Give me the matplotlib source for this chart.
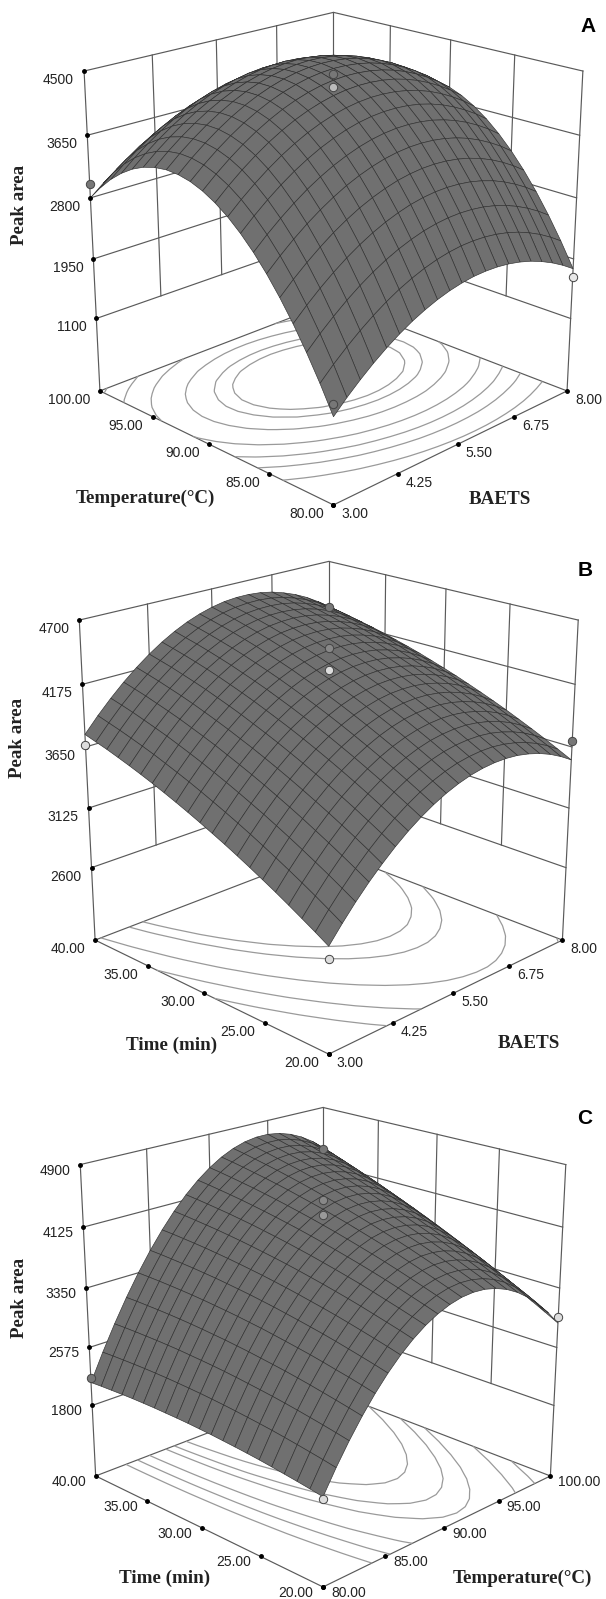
import numpy as np
import matplotlib
matplotlib.use('Agg')
import matplotlib.pyplot as plt
from mpl_toolkits.mplot3d import proj3d

W, H = 606, 1599
SANS = 'Liberation Sans'
SERIF = 'Liberation Serif'

baets_ticks = [3.00, 4.25, 5.50, 6.75, 8.00]
temp_ticks = [80.00, 85.00, 90.00, 95.00, 100.00]
time_ticks = [20.00, 25.00, 30.00, 35.00, 40.00]
a_z_ticks = [1100, 1950, 2800, 3650, 4500]
b_z_ticks = [2600, 3125, 3650, 4175, 4700]
c_z_ticks = [1800, 2575, 3350, 4125, 4900]
a_floor, b_floor, c_floor = 37.5, 1944, 831

# rows run along the left-going axis, columns along the right-going axis
a_surface = [
 [1200,1372,1527,1669,1796,1908,2006,2087,2155,2208,2246,2270,2277,2271,2250,2214,2164,2097,2017,1922,1812],
 [1554,1725,1879,2019,2145,2256,2353,2433,2500,2552,2589,2612,2618,2611,2589,2552,2501,2433,2352,2255,2144],
 [1878,2048,2201,2341,2466,2576,2671,2751,2816,2868,2903,2924,2930,2921,2899,2860,2808,2739,2657,2560,2448],
 [2175,2343,2496,2634,2758,2867,2961,3040,3104,3155,3189,3209,3214,3204,3181,3141,3088,3018,2934,2837,2723],
 [2441,2609,2760,2897,3021,3128,3222,3299,3362,3412,3445,3464,3468,3457,3432,3392,3337,3267,3182,3083,2969],
 [2680,2846,2997,3133,3254,3361,3454,3530,3592,3641,3673,3691,3694,3682,3656,3615,3559,3487,3401,3302,3186],
 [2890,3055,3204,3339,3461,3566,3657,3732,3794,3841,3872,3889,3890,3878,3851,3808,3751,3679,3592,3491,3374],
 [3070,3234,3383,3517,3637,3741,3831,3905,3966,4012,4042,4058,4058,4045,4017,3973,3915,3841,3753,3652,3534],
 [3223,3386,3533,3666,3785,3888,3978,4051,4110,4155,4184,4199,4198,4183,4154,4110,4051,3976,3887,3784,3665],
 [3345,3507,3654,3786,3904,4006,4094,4166,4224,4268,4296,4310,4308,4292,4262,4216,4156,4080,3990,3887,3767],
 [3440,3601,3746,3877,3994,4095,4182,4253,4310,4353,4380,4393,4390,4373,4342,4295,4234,4157,4066,3961,3840],
 [3506,3666,3809,3939,4055,4155,4241,4311,4367,4409,4435,4447,4443,4425,4393,4345,4283,4205,4113,4006,3884],
 [3542,3701,3844,3973,4088,4187,4271,4340,4395,4436,4461,4472,4467,4448,4415,4365,4302,4223,4130,4023,3900],
 [3551,3709,3850,3978,4092,4190,4274,4342,4395,4435,4459,4469,4463,4442,4408,4358,4294,4214,4120,4011,3887],
 [3529,3686,3827,3954,4066,4163,4246,4313,4365,4404,4427,4436,4429,4407,4372,4321,4256,4174,4079,3970,3845],
 [3480,3636,3775,3901,4013,4108,4190,4256,4308,4345,4367,4375,4366,4344,4308,4256,4189,4107,4011,3900,3774],
 [3402,3556,3695,3820,3930,4025,4105,4170,4221,4257,4278,4285,4275,4252,4215,4161,4094,4010,3913,3802,3674],
 [3294,3448,3585,3709,3819,3912,3992,4055,4105,4140,4160,4166,4155,4131,4092,4038,3969,3885,3787,3674,3546],
 [3159,3311,3448,3570,3679,3771,3850,3912,3961,3995,4014,4019,4007,3982,3942,3887,3817,3732,3632,3519,3389],
 [2993,3145,3280,3402,3509,3601,3678,3739,3787,3821,3838,3841,3829,3802,3762,3705,3635,3548,3448,3333,3203],
 [2800,2950,3085,3205,3315,3402,3478,3539,3585,3618,3634,3636,3623,3595,3554,3496,3424,3337,3235,3120,2988]]
b_surface = [
 [2818,2953,3078,3192,3295,3389,3473,3545,3607,3659,3700,3731,3751,3761,3761,3751,3729,3698,3656,3603,3540],
 [2884,3018,3143,3257,3360,3453,3535,3607,3669,3720,3761,3792,3811,3821,3821,3809,3787,3755,3713,3660,3596],
 [2947,3082,3206,3319,3422,3514,3596,3668,3729,3780,3820,3850,3869,3878,3878,3866,3843,3811,3768,3714,3651],
 [3009,3143,3266,3379,3481,3574,3655,3726,3787,3837,3877,3907,3925,3934,3933,3920,3897,3865,3822,3767,3703],
 [3069,3202,3325,3437,3539,3631,3712,3782,3843,3893,3932,3961,3979,3988,3986,3973,3949,3917,3873,3818,3753],
 [3126,3259,3382,3494,3594,3686,3767,3837,3896,3946,3985,4014,4032,4039,4037,4024,4000,3966,3922,3867,3802],
 [3182,3314,3437,3548,3648,3740,3820,3889,3948,3998,4036,4064,4082,4089,4086,4072,4048,4014,3969,3914,3848],
 [3236,3368,3490,3600,3700,3791,3871,3940,3998,4047,4085,4113,4130,4136,4133,4119,4094,4060,4014,3958,3892],
 [3288,3419,3540,3651,3750,3840,3920,3988,4046,4095,4132,4159,4176,4182,4178,4164,4138,4103,4058,4001,3934],
 [3337,3468,3589,3699,3798,3888,3967,4034,4092,4140,4177,4204,4220,4226,4221,4206,4180,4145,4099,4042,3975],
 [3385,3515,3636,3745,3844,3933,4011,4079,4136,4184,4220,4246,4262,4267,4263,4247,4220,4185,4138,4081,4013],
 [3431,3561,3681,3789,3887,3976,4054,4121,4178,4225,4261,4287,4302,4307,4302,4286,4259,4223,4175,4117,4049],
 [3475,3605,3724,3833,3930,4019,4096,4163,4219,4266,4301,4326,4341,4345,4340,4323,4296,4259,4212,4153,4085],
 [3517,3646,3765,3873,3970,4058,4135,4201,4257,4303,4338,4363,4377,4381,4375,4358,4330,4293,4245,4186,4117],
 [3557,3685,3804,3911,4008,4095,4172,4237,4293,4338,4373,4398,4411,4415,4408,4391,4362,4325,4276,4217,4147],
 [3595,3724,3842,3949,4045,4132,4208,4273,4328,4373,4407,4431,4444,4447,4440,4422,4393,4355,4306,4246,4177],
 [3631,3759,3876,3983,4079,4165,4241,4305,4360,4404,4438,4462,4474,4477,4469,4451,4421,4383,4334,4273,4203],
 [3665,3792,3909,4015,4110,4196,4272,4336,4390,4434,4467,4490,4502,4504,4496,4478,4448,4409,4359,4298,4227],
 [3698,3824,3941,4047,4141,4227,4301,4365,4419,4462,4495,4518,4529,4531,4523,4503,4473,4433,4383,4322,4250],
 [3727,3853,3970,4075,4169,4254,4328,4391,4445,4488,4520,4542,4553,4555,4546,4526,4495,4455,4404,4343,4271],
 [3756,3882,3997,4102,4196,4280,4354,4417,4470,4512,4544,4566,4576,4577,4568,4548,4516,4476,4425,4362,4290]]
c_surface = [
 [1943,2226,2483,2716,2924,3108,3267,3401,3511,3595,3655,3691,3701,3687,3647,3584,3496,3382,3245,3082,2895],
 [1969,2255,2515,2751,2963,3150,3312,3450,3562,3650,3713,3752,3766,3754,3718,3658,3573,3463,3329,3169,2985],
 [1992,2281,2545,2784,3000,3189,3354,3495,3611,3702,3768,3810,3827,3819,3786,3729,3647,3540,3409,3253,3072],
 [2013,2306,2573,2815,3033,3227,3395,3539,3658,3753,3822,3867,3888,3883,3853,3799,3721,3617,3489,3336,3159],
 [2034,2330,2600,2846,3067,3264,3435,3583,3705,3803,3875,3923,3947,3945,3919,3868,3793,3692,3568,3418,3244],
 [2053,2352,2625,2874,3099,3298,3473,3624,3750,3850,3926,3978,4004,4006,3983,3936,3863,3766,3645,3498,3327],
 [2069,2371,2648,2900,3127,3330,3508,3662,3791,3895,3974,4029,4059,4064,4044,4000,3931,3836,3718,3575,3407],
 [2083,2388,2668,2923,3154,3360,3541,3699,3831,3938,4020,4078,4111,4119,4103,4062,3996,3905,3790,3650,3485],
 [2095,2404,2687,2945,3180,3389,3574,3734,3869,3980,4065,4126,4163,4174,4160,4123,4060,3973,3861,3724,3563],
 [2107,2419,2705,2967,3205,3417,3605,3768,3907,4020,4109,4174,4213,4228,4217,4183,4123,4039,3931,3797,3639],
 [2116,2431,2721,2985,3226,3442,3633,3800,3941,4058,4150,4218,4261,4278,4271,4240,4184,4103,3997,3867,3712],
 [2124,2442,2735,3003,3247,3466,3660,3830,3975,4095,4190,4261,4307,4328,4324,4296,4243,4165,4063,3936,3784],
 [2129,2450,2746,3017,3265,3487,3684,3857,4006,4129,4227,4301,4350,4375,4374,4349,4299,4225,4126,4002,3853],
 [2132,2457,2756,3031,3281,3507,3707,3884,4035,4162,4263,4340,4393,4420,4423,4401,4355,4283,4188,4067,3922],
 [2135,2463,2766,3043,3297,3526,3729,3909,4064,4193,4298,4379,4434,4465,4471,4452,4409,4341,4248,4131,3989],
 [2135,2466,2772,3053,3310,3541,3748,3931,4089,4222,4330,4414,4473,4507,4516,4501,4460,4395,4306,4192,4053],
 [2134,2468,2777,3061,3321,3556,3767,3953,4114,4250,4361,4448,4510,4547,4559,4548,4511,4449,4363,4252,4116],
 [2130,2467,2779,3067,3330,3568,3782,3971,4135,4275,4389,4479,4545,4585,4600,4592,4558,4499,4417,4309,4176],
 [2124,2465,2781,3071,3338,3579,3796,3988,4156,4298,4416,4510,4578,4622,4640,4635,4604,4549,4469,4365,4236],
 [2118,2462,2781,3075,3344,3589,3809,4005,4175,4321,4442,4539,4611,4657,4679,4677,4650,4597,4521,4420,4294],
 [2109,2456,2778,3075,3348,3596,3819,4018,4192,4341,4465,4565,4640,4690,4715,4716,4692,4643,4570,4472,4349]]
a_levels = [2420, 2880, 3200, 3520, 3860, 4090, 4210]
b_levels = [3344, 3565, 3811, 4064, 4170]
c_levels = [2900, 3170, 3430, 3750, 3900, 4090]

# design points: right-axis value, left-axis value, response, fill
a_points = [(3, 100, 2992, '#777777'), (8, 80, 1695, '#e8e8e8'), (3, 80, 1362, '#777777'),
            (5.5, 90, 4464, '#777777'), (5.5, 90, 4294, '#bbbbbb')]
b_points = [(3, 40, 3668, '#dddddd'), (8, 20, 3703, '#777777'), (3, 20, 2716, '#dddddd'),
            (8, 40, 4290, '#777777'), (5.5, 30, 4470, '#888888'), (5.5, 30, 4295, '#dddddd')]
c_points = [(80, 40, 2170, '#777777'), (100, 20, 2973, '#dddddd'), (80, 20, 1921, '#dddddd'),
            (100, 40, 4330, '#777777'), (90, 30, 4467, '#888888'), (90, 30, 4277, '#999999')]

fig = plt.figure(figsize=(W / 100, H / 100), dpi=100)
fig.patch.set_facecolor('white')
WALL = '#5a5a5a'


def place(ax, targets):
    M = ax.get_proj()
    v = ax.viewLim
    rows, rhs = [], []
    for (x, y, z), (px, py) in targets:
        xp, yp, _ = proj3d.proj_transform(x, y, z, M)
        fx = (xp - v.x0) / (v.x1 - v.x0)
        fy = (yp - v.y0) / (v.y1 - v.y0)
        rows += [[1, 0, fx], [0, 1, 1 - fy]]
        rhs += [px, py]
    L, T, S = np.linalg.lstsq(np.array(rows), np.array(rhs), rcond=None)[0]
    ax.set_position([L / W, 1 - (T + S) / H, S / W, S / H])


def panel(xt, yt, zt, zfloor, surface, levels, points, corners, elev, dy=-9):
    ax = fig.add_axes([0, 0, 1, 1], projection='3d', computed_zorder=False)
    ax.set_xlim(xt[0], xt[-1]); ax.set_ylim(yt[0], yt[-1]); ax.set_zlim(zfloor, zt[-1])
    ax.set_box_aspect((1, 1, 1.0), zoom=0.85)
    ax.view_init(elev=elev, azim=-135)
    ax.set_proj_type('persp', focal_length=0.5)
    ax.set_axis_off()
    ax.patch.set_alpha(0)
    x0, x1, y0, y1, zl, zh = xt[0], xt[-1], yt[0], yt[-1], zfloor, zt[-1]
    place(ax, [((x0, y1, zl), corners[0]), ((x1, y0, zl), corners[1]), ((x0, y0, zl), corners[2]),
               ((x0, y1, zh), corners[3]), ((x1, y0, zh), corners[4]), ((x1, y1, zh), corners[5])])
    kw = dict(color=WALL, lw=0.85, zorder=1, clip_on=False)
    for z in zt:
        ax.plot([x0, x1, x1], [y1, y1, y0], [z, z, z], **kw)
    for x in xt[1:-1]:
        ax.plot([x, x], [y1, y1], [zt[0], zh], **kw)
    for y in yt[1:-1]:
        ax.plot([x1, x1], [y, y], [zt[0], zh], **kw)
    for x, y in [(x0, y1), (x1, y0), (x1, y1)]:
        ax.plot([x, x], [y, y], [zl, zh], **kw)
    ax.plot([x0, x1, x1, x0, x0], [y0, y0, y1, y1, y0], [zl] * 5, **kw)
    X, Y = np.meshgrid(np.linspace(x0, x1, np.shape(surface)[1]), np.linspace(y0, y1, np.shape(surface)[0]))
    Z = np.array(surface, float)
    ax.contour(X, Y, Z, levels=levels, zdir='z', offset=zl, colors='#9a9a9a', linewidths=0.9, zorder=2)
    ax.plot_surface(X, Y, Z, rstride=1, cstride=1, color='#707070', edgecolor='#303030',
                    linewidth=0.45, shade=False, zorder=3)
    for px, py, pz, fill in points:
        ax.plot([px], [py], [pz], 'o', mfc=fill, mec='#444444', mew=0.7, ms=6, zorder=5, clip_on=False)
    M = ax.get_proj()
    dots = dict(color='black', ms=2.5, marker='o', ls='none', zorder=4, clip_on=False)
    tk = dict(fontsize=10, family=SANS, color='#222222', textcoords='offset pixels', va='center',
              annotation_clip=False)
    for x in xt:
        ax.plot([x], [y0], [zl], **dots)
        xp, yp, _ = proj3d.proj_transform(x, y0, zl, M)
        ax.annotate('%.2f' % x, (xp, yp), xytext=(8, dy), ha='left', **tk)
    for y in yt:
        ax.plot([x0], [y], [zl], **dots)
        xp, yp, _ = proj3d.proj_transform(x0, y, zl, M)
        ax.annotate('%.2f' % y, (xp, yp), xytext=(-9.5, dy), ha='right', **tk)
    for z in zt:
        ax.plot([x0], [y1], [z], **dots)
        xp, yp, _ = proj3d.proj_transform(x0, y1, z, M)
        ax.annotate('%d' % z, (xp, yp), xytext=(-10, dy), ha='right', **tk)
    return ax


def label(x, y, s, rot=0):
    fig.text(x / W, 1 - y / H, s, family=SERIF, weight='bold', fontsize=13.7, rotation=rot,
             ha='center', va='center', color='#222222')


def letter(x, y, s):
    fig.text(x / W, 1 - y / H, s, family=SANS, weight='bold', fontsize=15, ha='center', va='center', color='black')


panel(baets_ticks, temp_ticks, a_z_ticks, a_floor, a_surface, a_levels, a_points,
      [(99.7, 391.5), (567, 392), (333.6, 503.7), (84, 70), (583, 70), (333.6, 14)], 20.5)
panel(baets_ticks, time_ticks, b_z_ticks, b_floor, b_surface, b_levels, b_points,
      [(94.7, 940.5), (562.4, 940.5), (328.6, 1053), (79.2, 619.4), (579, 619.4), (328.6, 563)], 20.5)
panel(temp_ticks, time_ticks, c_z_ticks, c_floor, c_surface, c_levels, c_points,
      [(95.5, 1476.6), (551, 1476.6), (322.8, 1585.5), (80, 1163.5), (566, 1164.5), (322.8, 1108.8)], 20.5, dy=-6)

label(20, 204.5, 'Peak area', 90); label(145, 498, 'Temperature(°C)'); label(499.4, 499, 'BAETS')
label(17.4, 737.7, 'Peak area', 90); label(172, 1045, 'Time (min)'); label(529, 1043, 'BAETS')
label(20, 1297.7, 'Peak area', 90); label(165, 1578.5, 'Time (min)'); label(522.6, 1578.5, 'Temperature(°C)')
letter(588, 26, 'A'); letter(585.6, 570, 'B'); letter(584.5, 1118, 'C')

fig.savefig('out.png', dpi=100)
